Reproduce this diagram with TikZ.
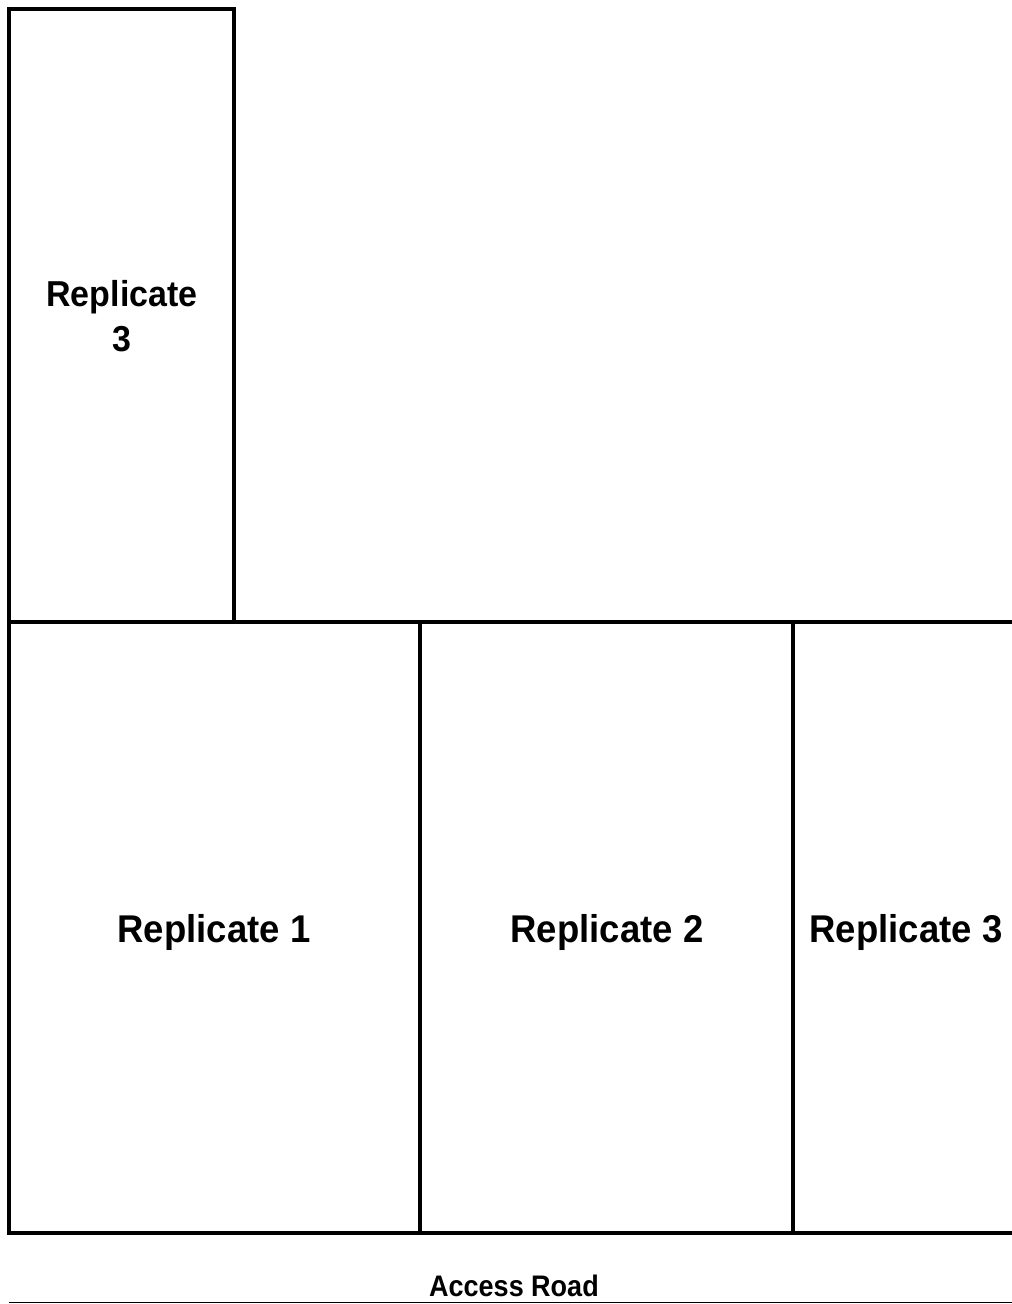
\documentclass[tikz,border=0pt]{standalone}
\usepackage{fontspec}
\setmainfont{Liberation Sans}
\begin{document}
\begin{tikzpicture}[x=1pt,y=-1pt,
  plotline/.style={line width=4pt,line join=miter,black},
  roadline/.style={line width=1.6pt,black},
  biglabel/.style={font=\bfseries\fontsize{36.5}{42}\selectfont,align=center,inner sep=0pt,yscale=1.06},
  toplabel/.style={font=\bfseries\fontsize{34}{42}\selectfont,align=center,inner sep=0pt,yscale=1.06},
  roadlabel/.style={font=\bfseries\fontsize{27}{30}\selectfont,inner sep=0pt,yscale=1.1}]
\useasboundingbox (0,0) rectangle (1012,1304);
% top-left plot
\draw[plotline] (9,9) rectangle (234,622);
% bottom row of plots
\draw[plotline] (1012,622) -- (9,622) -- (9,1233) -- (1012,1233);
\draw[plotline] (420,622) -- (420,1233);
\draw[plotline] (793,622) -- (793,1233);
% access road line
\draw[roadline] (9,1302.5) -- (1012,1302.5);
% labels
\node[toplabel] (r3top) at (122,316) {Replicate\\3};
\node[biglabel,anchor=base] (r1) at (214,942) {Replicate 1};
\node[biglabel,anchor=base] (r2) at (607,942) {Replicate 2};
\node[biglabel,anchor=base] (r3) at (906,942) {Replicate 3};
\node[roadlabel,anchor=base] (road) at (514,1296) {Access Road};
\end{tikzpicture}
\end{document}
